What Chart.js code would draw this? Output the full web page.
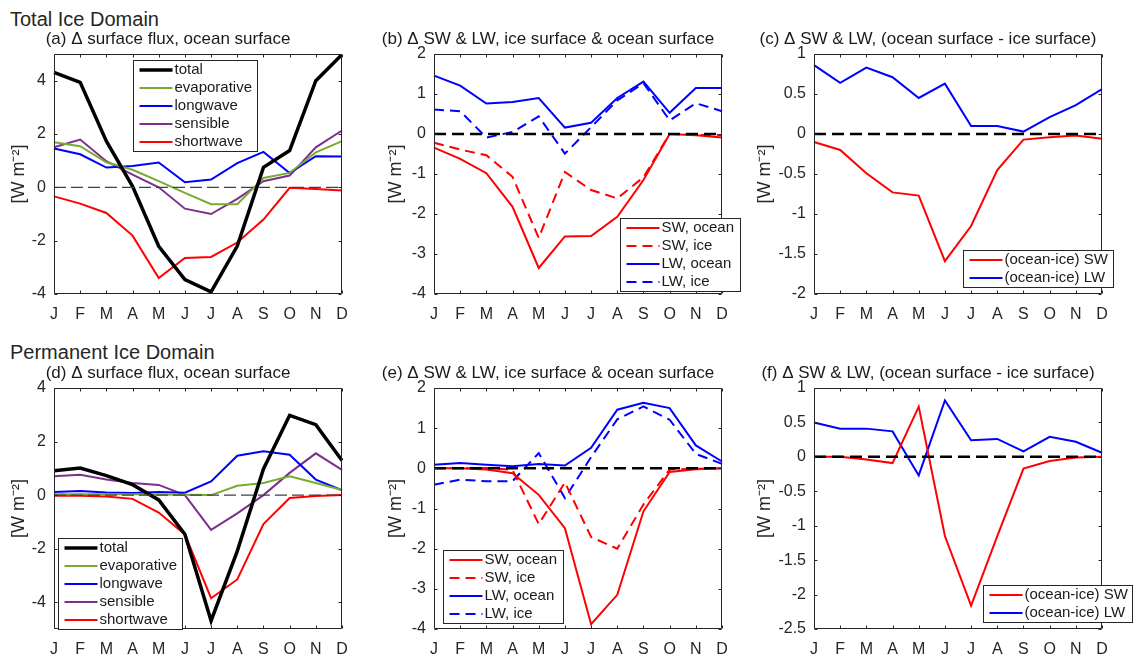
<!DOCTYPE html>
<html>
<head>
<meta charset="utf-8">
<script src="https://cdn.jsdelivr.net/npm/chart.js@4.4.1/dist/chart.umd.min.js"></script>
<style>
    body { margin: 0; background: #fff; }
    #figure { position: relative; width: 1140px; height: 656px; overflow: hidden; background: #fff; }
    #figure canvas { position: absolute; }
    .domain-title {
        position: absolute; left: 10px; font: 20px "Liberation Sans", Arial, sans-serif;
        color: #262626; line-height: 20px; white-space: nowrap;
    }
</style>
</head>
<body>
<div id="figure">
    <div class="domain-title" style="top: 9px;">Total Ice Domain</div>
    <div class="domain-title" style="top: 342px;">Permanent Ice Domain</div>
</div>
<script>
// Monthly changes in surface fluxes [W m-2]
const months = ['J', 'F', 'M', 'A', 'M', 'J', 'J', 'A', 'S', 'O', 'N', 'D'];

// (a) total ice domain, ocean surface
const totalA = [4.31, 3.94, 1.73, 0.04, -2.21, -3.46, -3.92, -2.2, 0.75, 1.38, 4.0, 4.98];
const evapA = [1.69, 1.54, 0.94, 0.66, 0.23, -0.21, -0.63, -0.63, 0.35, 0.54, 1.31, 1.73];
const lwA = [1.46, 1.24, 0.74, 0.8, 0.93, 0.19, 0.29, 0.91, 1.33, 0.54, 1.17, 1.16];
const sensA = [1.5, 1.79, 0.98, 0.48, 0.0, -0.8, -1.0, -0.43, 0.23, 0.44, 1.5, 2.13];
const swA = [-0.34, -0.61, -0.96, -1.81, -3.4, -2.65, -2.61, -2.07, -1.21, -0.02, -0.06, -0.12];

// (b) total ice domain, ice & ocean surface
const swOceanB = [-0.34, -0.62, -0.98, -1.82, -3.35, -2.56, -2.55, -2.07, -1.15, 0.0, -0.03, -0.09];
const swIceB = [-0.22, -0.39, -0.53, -1.07, -2.6, -0.95, -1.4, -1.61, -1.08, 0.0, -0.02, -0.03];
const lwOceanB = [1.46, 1.21, 0.76, 0.8, 0.9, 0.16, 0.28, 0.9, 1.31, 0.53, 1.15, 1.15];
const lwIceB = [0.61, 0.57, -0.09, 0.05, 0.44, -0.49, 0.17, 0.84, 1.27, 0.34, 0.77, 0.57];

// (c) total ice domain, ocean - ice
const swDiffC = [-0.1, -0.2, -0.49, -0.73, -0.77, -1.59, -1.15, -0.45, -0.07, -0.04, -0.02, -0.06];
const lwDiffC = [0.86, 0.64, 0.83, 0.71, 0.45, 0.63, 0.1, 0.1, 0.03, 0.21, 0.36, 0.56];

// (d) permanent ice domain, ocean surface
const totalD = [0.91, 1.01, 0.73, 0.39, -0.18, -1.46, -4.69, -2.09, 0.98, 2.98, 2.63, 1.29];
const evapD = [0.03, 0.03, 0.03, 0.03, 0.02, 0.01, 0.0, 0.35, 0.45, 0.7, 0.45, 0.19];
const lwD = [0.12, 0.15, 0.1, 0.08, 0.12, 0.09, 0.51, 1.47, 1.64, 1.51, 0.58, 0.18];
const sensD = [0.7, 0.76, 0.58, 0.45, 0.38, 0.0, -1.3, -0.68, 0.0, 0.83, 1.56, 0.94];
const swD = [-0.02, -0.02, -0.05, -0.14, -0.65, -1.47, -3.85, -3.15, -1.08, -0.11, -0.03, 0.0];

// (e) permanent ice domain, ice & ocean surface
const swOceanE = [0.0, 0.0, -0.03, -0.12, -0.66, -1.49, -3.88, -3.15, -1.07, -0.09, -0.02, 0.0];
const swIceE = [0.0, 0.0, 0.01, -0.04, -1.39, -0.35, -1.71, -2.0, -0.9, -0.03, -0.01, 0.0];
const lwOceanE = [0.09, 0.13, 0.09, 0.05, 0.11, 0.07, 0.51, 1.46, 1.63, 1.5, 0.57, 0.17];
const lwIceE = [-0.41, -0.28, -0.32, -0.32, 0.38, -0.74, 0.28, 1.22, 1.54, 1.21, 0.36, 0.11];

// (f) permanent ice domain, ocean - ice
const swDiffF = [0.0, 0.0, -0.04, -0.09, 0.73, -1.15, -2.16, -1.15, -0.17, -0.06, -0.01, 0.0];
const lwDiffF = [0.5, 0.41, 0.41, 0.37, -0.27, 0.82, 0.24, 0.26, 0.08, 0.29, 0.22, 0.06];

// y tick labels per panel
const ticksA = [-4, -2, 0, 2, 4];
const ticksB = [-4, -3, -2, -1, 0, 1, 2];
const ticksC = [-2, -1.5, -1, -0.5, 0, 0.5, 1];
const ticksD = [-4, -2, 0, 2, 4];
const ticksE = [-4, -3, -2, -1, 0, 1, 2];
const ticksF = [-2.5, -2, -1.5, -1, -0.5, 0, 0.5, 1];

const FONT = '"Liberation Sans", Arial, Helvetica, sans-serif';
const AXIS_COLOR = '#262626';
const MARGIN = 60;      // room left/right of each plot box inside its canvas
const TITLE_H = 30;
const XAXIS_H = 30;

Chart.defaults.font.family = FONT;
Chart.defaults.color = AXIS_COLOR;

function line(label, data, color, width, dash) {
    return {
        label: label,
        data: data,
        borderColor: color,
        backgroundColor: color,
        borderWidth: width,
        borderDash: dash || [],
        pointRadius: 0,
        tension: 0,
        fill: false
    };
}

function fluxSets(total, evap, lw, sens, sw) {
    return [
        line('total', total, '#000000', 3.5),
        line('evaporative', evap, '#77AC30', 2),
        line('longwave', lw, '#0000FF', 2),
        line('sensible', sens, '#7E2F8E', 2),
        line('shortwave', sw, '#FF0000', 2)
    ];
}

function surfaceSets(swOcean, swIce, lwOcean, lwIce) {
    return [
        line('SW, ocean', swOcean, '#FF0000', 2),
        line('SW, ice', swIce, '#FF0000', 2, [10, 6]),
        line('LW, ocean', lwOcean, '#0000FF', 2),
        line('LW, ice', lwIce, '#0000FF', 2, [10, 6])
    ];
}

function diffSets(sw, lw) {
    return [
        line('(ocean-ice) SW', sw, '#FF0000', 2),
        line('(ocean-ice) LW', lw, '#0000FF', 2)
    ];
}

// MATLAB style box with inward tick marks
const axesBox = {
    id: 'axesBox',
    afterDraw(chart) {
        const { ctx, chartArea: a, scales: { x, y } } = chart;
        const l = Math.round(a.left) + 0.5, r = Math.round(a.right) - 0.5;
        const t = Math.round(a.top) + 0.5, b = Math.round(a.bottom) - 0.5;
        const len = 3;
        ctx.save();
        ctx.strokeStyle = AXIS_COLOR;
        ctx.lineWidth = 1;
        ctx.beginPath();
        ctx.rect(l, t, r - l, b - t);
        x.ticks.forEach((_, i) => {
            const px = Math.round(x.getPixelForTick(i)) + 0.5;
            ctx.moveTo(px, b); ctx.lineTo(px, b - len);
            ctx.moveTo(px, t); ctx.lineTo(px, t + len);
        });
        y.ticks.forEach(tk => {
            const py = Math.round(y.getPixelForValue(tk.value)) + 0.5;
            ctx.moveTo(l, py); ctx.lineTo(l + len, py);
            ctx.moveTo(r, py); ctx.lineTo(r - len, py);
        });
        ctx.stroke();
        ctx.restore();
    }
};

const zeroLine = {
    id: 'zeroLine',
    afterDatasetsDraw(chart, args, opts) {
        const { ctx, chartArea: a, scales: { y } } = chart;
        const py = y.getPixelForValue(0);
        ctx.save();
        ctx.strokeStyle = opts.color;
        ctx.lineWidth = opts.width;
        ctx.setLineDash(opts.dash);
        ctx.beginPath();
        ctx.moveTo(a.left, py);
        ctx.lineTo(a.right, py);
        ctx.stroke();
        ctx.restore();
    }
};

// legend box drawn inside the axes, like MATLAB
const boxLegend = {
    id: 'boxLegend',
    afterDraw(chart, args, opts) {
        const { ctx, chartArea: a } = chart;
        const sets = chart.data.datasets;
        const rowH = 18, pad = 9.5;
        const h = Math.round(pad * 2 + (sets.length - 1) * rowH);
        const bx = Math.round(a.left + opts.x) + 0.5;
        const by = Math.round(a.top + opts.y) + 0.5;
        ctx.save();
        ctx.fillStyle = '#ffffff';
        ctx.fillRect(bx, by, opts.w, h);
        ctx.strokeStyle = AXIS_COLOR;
        ctx.lineWidth = 1;
        ctx.strokeRect(bx, by, opts.w, h);
        ctx.font = '15px ' + FONT;
        ctx.textBaseline = 'middle';
        ctx.textAlign = 'left';
        sets.forEach((ds, i) => {
            const cy = by + pad + i * rowH;
            ctx.strokeStyle = ds.borderColor;
            ctx.lineWidth = ds.borderWidth;
            ctx.setLineDash(ds.borderDash);
            ctx.beginPath();
            ctx.moveTo(bx + 6, cy);
            ctx.lineTo(bx + 39, cy);
            ctx.stroke();
            ctx.fillStyle = '#1a1a1a';
            ctx.fillText(ds.label, bx + 41, cy);
        });
        ctx.restore();
    }
};

const thinZero = { color: '#404040', width: 1.2, dash: [12, 5] };
const boldZero = { color: '#000000', width: 2.5, dash: [12, 6] };

const panels = [
    { title: '(a) Δ surface flux, ocean surface', plotLeft: 54, plotTop: 54, plotH: 240,
      min: -4, max: 5, ticks: ticksA, labelGap: 35, zero: thinZero,
      legend: { x: 78.5, y: 6, w: 124 },
      datasets: fluxSets(totalA, evapA, lwA, sensA, swA) },
    { title: '(b) Δ SW & LW, ice surface & ocean surface', plotLeft: 434, plotTop: 54, plotH: 240,
      min: -4, max: 2, ticks: ticksB, labelGap: 37.6, zero: boldZero,
      legend: { x: 186, y: 164, w: 120 },
      datasets: surfaceSets(swOceanB, swIceB, lwOceanB, lwIceB) },
    { title: '(c) Δ SW & LW, (ocean surface - ice surface)', plotLeft: 814, plotTop: 54, plotH: 240,
      min: -2, max: 1, ticks: ticksC, labelGap: 49, zero: boldZero,
      legend: { x: 148.5, y: 196, w: 150 },
      datasets: diffSets(swDiffC, lwDiffC) },
    { title: '(d) Δ surface flux, ocean surface', plotLeft: 54, plotTop: 388, plotH: 241,
      min: -5, max: 4, ticks: ticksD, labelGap: 35, zero: thinZero,
      legend: { x: 4, y: 150, w: 124 },
      datasets: fluxSets(totalD, evapD, lwD, sensD, swD) },
    { title: '(e) Δ SW & LW, ice surface & ocean surface', plotLeft: 434, plotTop: 388, plotH: 241,
      min: -4, max: 2, ticks: ticksE, labelGap: 37.6, zero: boldZero,
      legend: { x: 9, y: 162, w: 120 },
      datasets: surfaceSets(swOceanE, swIceE, lwOceanE, lwIceE) },
    { title: '(f) Δ SW & LW, (ocean surface - ice surface)', plotLeft: 814, plotTop: 388, plotH: 241,
      min: -2.5, max: 1, ticks: ticksF, labelGap: 49, zero: boldZero,
      legend: { x: 169, y: 197, w: 149 },
      datasets: diffSets(swDiffF, lwDiffF) }
];

const figure = document.getElementById('figure');
const PLOT_W = 288;

panels.forEach(p => {
    const canvas = document.createElement('canvas');
    canvas.width = MARGIN * 2 + PLOT_W;
    canvas.height = TITLE_H + p.plotH + XAXIS_H;
    canvas.style.left = (p.plotLeft - MARGIN) + 'px';
    canvas.style.top = (p.plotTop - TITLE_H) + 'px';
    figure.appendChild(canvas);

    const yTitleSize = 18;
    const yTitlePad = MARGIN - p.labelGap - yTitleSize * 0.6;

    new Chart(canvas.getContext('2d'), {
        type: 'line',
        data: { labels: months, datasets: p.datasets },
        options: {
            responsive: false,
            animation: false,
            devicePixelRatio: 1,
            layout: { padding: { left: 0, right: MARGIN, top: 0, bottom: 0 } },
            scales: {
                x: {
                    type: 'category',
                    offset: false,
                    grid: { display: false, drawTicks: false },
                    border: { display: false },
                    ticks: { font: { size: 16 }, padding: 11, maxRotation: 0, autoSkip: false, color: AXIS_COLOR },
                    afterFit: s => { s.height = XAXIS_H; }
                },
                y: {
                    min: p.min,
                    max: p.max,
                    grid: { display: false, drawTicks: false },
                    border: { display: false },
                    afterBuildTicks: s => { s.ticks = p.ticks.map(v => ({ value: v })); },
                    ticks: { font: { size: 16 }, padding: 8, color: AXIS_COLOR, callback: v => String(v) },
                    title: {
                        display: true,
                        text: '[W m⁻²]',
                        color: AXIS_COLOR,
                        font: { size: yTitleSize },
                        padding: { top: yTitlePad, bottom: 0 }
                    },
                    afterFit: s => { s.width = MARGIN; }
                }
            },
            plugins: {
                legend: { display: false },
                tooltip: { enabled: false },
                title: {
                    display: true,
                    text: p.title,
                    color: '#1a1a1a',
                    font: { size: 17, weight: 'normal' },
                    padding: { top: 5.3, bottom: 4.3 }
                },
                zeroLine: p.zero,
                boxLegend: p.legend
            }
        },
        plugins: [zeroLine, axesBox, boxLegend]
    });
});
</script>
</body>
</html>
